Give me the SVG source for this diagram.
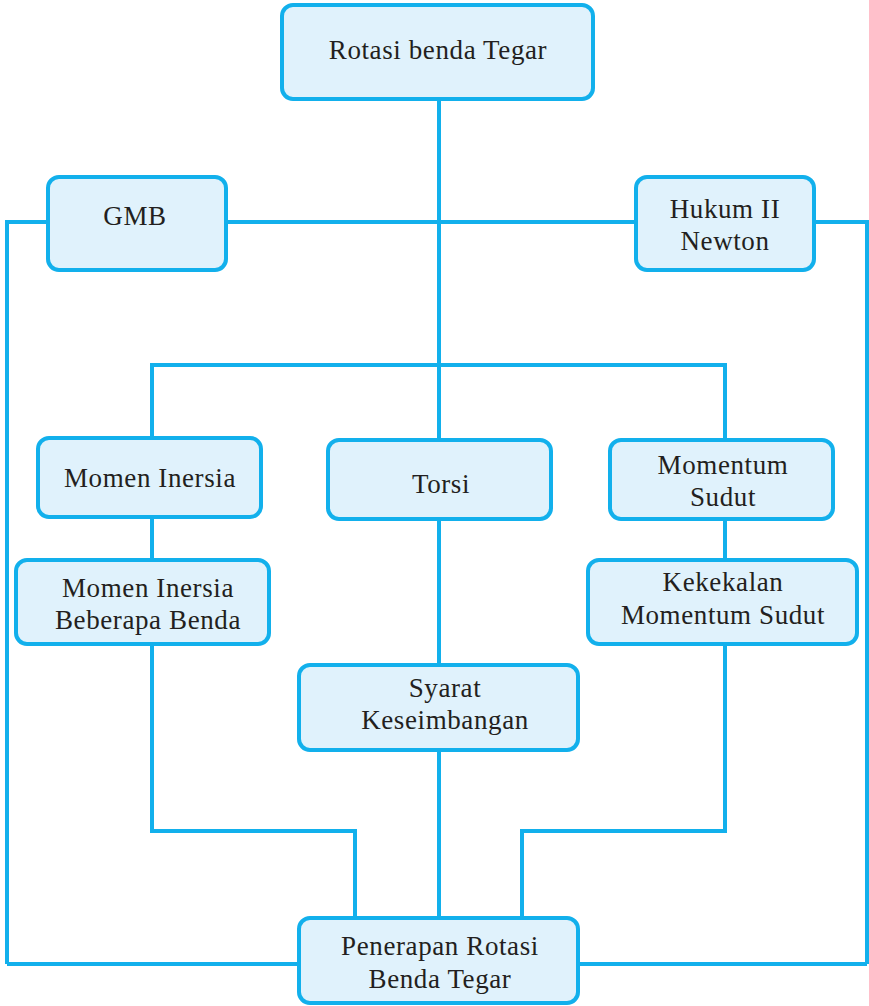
<svg xmlns="http://www.w3.org/2000/svg" width="869" height="1006" viewBox="0 0 869 1006">
  <style>
    .box { fill: #e0f2fc; stroke: #12b0ec; stroke-width: 4; }
    .wire { fill: none; stroke: #12b0ec; stroke-width: 4; }
    text { font-family: "Liberation Serif", "DejaVu Serif", serif; font-size: 27px; letter-spacing: 0.6px; fill: #231f20; text-anchor: middle; }
  </style>
  <rect width="869" height="1006" fill="#ffffff"/>

  <!-- connectors -->
  <g id="connectors" class="wire">
    <path d="M439 99 V918"/>
    <path d="M7 964 V222 H867 V964"/>
    <path d="M7 964 H299 M578 964 H867"/>
    <path d="M152 438 V365 H725 V440"/>
    <path d="M152 517 V560"/>
    <path d="M725 519 V560"/>
    <path d="M152 644 V831 H355 V918"/>
    <path d="M725 644 V831 H522 V918"/>
  </g>

  <g id="rotasi">
    <rect class="box" x="282" y="5" width="311" height="94" rx="11"/>
    <text x="438" y="59">Rotasi benda Tegar</text>
  </g>
  <g id="gmb">
    <rect class="box" x="48" y="177" width="178" height="93" rx="11"/>
    <text x="135" y="225">GMB</text>
  </g>
  <g id="hukum">
    <rect class="box" x="636" y="177" width="178" height="93" rx="11"/>
    <text x="725" y="218">Hukum II</text>
    <text x="725" y="250">Newton</text>
  </g>
  <g id="momen-inersia">
    <rect class="box" x="38" y="438" width="223" height="79" rx="11"/>
    <text x="150" y="487">Momen Inersia</text>
  </g>
  <g id="torsi">
    <rect class="box" x="328" y="440" width="223" height="79" rx="11"/>
    <text x="441" y="493">Torsi</text>
  </g>
  <g id="momentum-sudut">
    <rect class="box" x="610" y="440" width="223" height="79" rx="11"/>
    <text x="723" y="474">Momentum</text>
    <text x="723" y="506">Sudut</text>
  </g>
  <g id="momen-beberapa">
    <rect class="box" x="16" y="560" width="253" height="84" rx="11"/>
    <text x="148" y="597">Momen Inersia</text>
    <text x="148" y="629">Beberapa Benda</text>
  </g>
  <g id="kekekalan">
    <rect class="box" x="588" y="560" width="269" height="84" rx="11"/>
    <text x="723" y="591">Kekekalan</text>
    <text x="723" y="624">Momentum Sudut</text>
  </g>
  <g id="syarat">
    <rect class="box" x="299" y="665" width="279" height="85" rx="11"/>
    <text x="445" y="697">Syarat</text>
    <text x="445" y="729">Keseimbangan</text>
  </g>
  <g id="penerapan">
    <rect class="box" x="299" y="918" width="279" height="85" rx="11"/>
    <text x="440" y="955">Penerapan Rotasi</text>
    <text x="440" y="988">Benda Tegar</text>
  </g>
</svg>
